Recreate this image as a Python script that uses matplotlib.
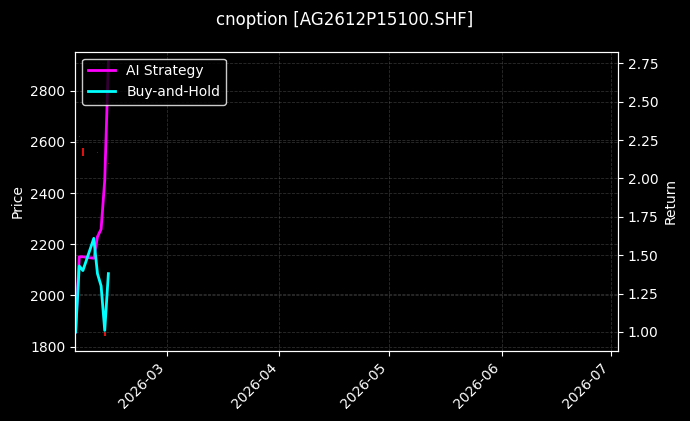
import matplotlib
matplotlib.use("Agg")
import matplotlib.pyplot as plt
import matplotlib.dates as mdates
import numpy as np
import pandas as pd

# ---- data ----
dates = pd.to_datetime(["2026-02-04", "2026-02-05", "2026-02-06", "2026-02-09",
                        "2026-02-10", "2026-02-11", "2026-02-12", "2026-02-13"])
ai_strategy = [1.00, 1.49, 1.49, 1.48, 1.62, 1.67, 1.99, 2.76]
buy_and_hold = [1.00, 1.43, 1.40, 1.61, 1.38, 1.30, 1.01, 1.38]

# candle bodies (only some are visible in the reference)
candle_dates = pd.to_datetime(["2026-02-05", "2026-02-06", "2026-02-10",
                               "2026-02-12", "2026-02-13"])
candle_open = [2624, 2576, 2562, 1858, 2519]
candle_close = [2620, 2545, 2558, 1842, 2515]

x_start = pd.Timestamp("2026-02-03 20:00")
x_end = pd.Timestamp("2026-07-03")

plt.style.use("dark_background")
fig = plt.figure(figsize=(6.9, 4.21), dpi=100)
ax1 = fig.add_axes([0.1087, 0.1663, 0.787, 0.7109])
ax2 = ax1.twinx()

# candles on price axis
cd = mdates.date2num(candle_dates)
lo = np.minimum(candle_open, candle_close)
hi = np.maximum(candle_open, candle_close)
big = (hi - lo) > 8
ax1.bar(cd[big], (hi - lo)[big], bottom=lo[big], width=0.45, color="#e01010",
        edgecolor="none")
ax1.bar(cd[~big], (hi - lo)[~big], bottom=lo[~big], width=0.3, color="#701010",
        edgecolor="none")

ax2.plot(dates, ai_strategy, color="#ff00ff", lw=2, label="AI Strategy")
ax2.plot(dates, buy_and_hold, color="#00ffff", lw=2, label="Buy-and-Hold")

ax1.set_xlim(x_start, x_end)
ax1.set_ylim(1783, 2952)
ax2.set_ylim(0.876, 2.826)
ax1.set_yticks([1800, 2000, 2200, 2400, 2600, 2800])

ax1.set_ylabel("Price")
ax2.set_ylabel("Return")

ax1.xaxis.set_major_locator(mdates.MonthLocator())
ax1.xaxis.set_major_formatter(mdates.DateFormatter("%Y-%m"))
for lab in ax1.get_xticklabels():
    lab.set_rotation(45)
    lab.set_ha("right")

ax1.grid(True, linestyle="--", color="gray", alpha=0.35, lw=0.6)
ax2.grid(True, linestyle="--", color="gray", alpha=0.35, lw=0.6)

leg = ax2.legend(loc="upper left", facecolor="black", edgecolor="white",
                 framealpha=0.8)

fig.suptitle("cnoption [AG2612P15100.SHF]", y=0.975, fontsize=12)

fig.savefig("out.png", dpi=100, facecolor="black")
